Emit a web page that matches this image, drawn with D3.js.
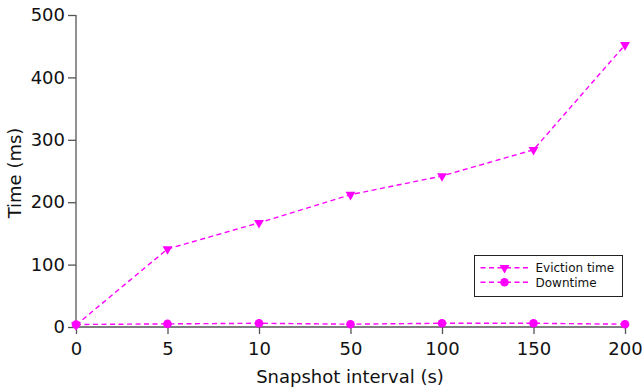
<!DOCTYPE html>
<html lang="en">
<head>
<meta charset="utf-8">
<title>eviction time vs snapshot interval</title>
<script src="https://d3js.org/d3.v7.min.js"></script>
<style>
  body{margin:0;background:#fff;font-family:"DejaVu Sans",sans-serif;}
</style>
</head>
<body>
<div id="chart"></div>
<script>
// snapshot intervals (s), plotted as evenly spaced categories
var intervals = ["0","5","10","50","100","150","200"]
var evictionTime = [3, 125, 167, 212, 242, 284, 452]
var downtime = [4, 5, 6, 4.5, 6, 6, 4.5]
var yTicks = [0, 100, 200, 300, 400, 500]

var w = 642, h = 390
var margin = {left:76, right:17, top:15, bottom:63}
var color = "#ff00ff"

var svg = d3.select("#chart").append("svg").attr("width", w).attr("height", h)

var x = d3.scalePoint().domain(intervals).range([margin.left, w - margin.right])
var y = d3.scaleLinear().domain([0, 500]).range([h - margin.bottom, margin.top])

var xAxis = svg.append("g")
  .attr("transform", "translate(0," + (h - margin.bottom) + ")")
  .call(d3.axisBottom(x).tickSize(7).tickPadding(8))
var yAxis = svg.append("g")
  .attr("transform", "translate(" + margin.left + ",0)")
  .call(d3.axisLeft(y).tickValues(yTicks).tickSize(8).tickPadding(3))

;[xAxis, yAxis].forEach(function(a){
  a.selectAll("path, line").attr("stroke", "#555").attr("stroke-width", 1.3)
  a.selectAll("text").attr("font-family", "DejaVu Sans").attr("font-size", 18).attr("fill", "#111")
})
xAxis.select(".domain").attr("d", "M" + margin.left + ",0H" + (w - margin.right))
yAxis.select(".domain").attr("d", "M0," + (h - margin.bottom) + "V" + margin.top)

svg.append("text").attr("x", 350).attr("y", 383)
  .attr("text-anchor", "middle").attr("font-size", 18).attr("fill", "#111")
  .text("Snapshot interval (s)")
svg.append("text").attr("transform", "translate(21," + 173 + ") rotate(-90)")
  .attr("text-anchor", "middle").attr("font-size", 18).attr("fill", "#111")
  .text("Time (ms)")

var line = d3.line().x(function(d, i){ return x(intervals[i]) }).y(function(d){ return y(d) })

var tri = d3.symbol().type(d3.symbolTriangle).size(42)

function drawSeries(vals, marker){
  svg.append("path").datum(vals).attr("d", line)
    .attr("fill", "none").attr("stroke", color).attr("stroke-width", 1.4)
    .attr("stroke-dasharray", "5,3.5")
  var g = svg.append("g").selectAll("g").data(vals).enter().append("g")
    .attr("transform", function(d, i){ return "translate(" + x(intervals[i]) + "," + y(d) + ")" })
  addMarker(g, marker)
}

function addMarker(sel, marker){
  if(marker == "tri"){
    sel.append("path").attr("d", tri).attr("transform", "rotate(180)").attr("fill", color)
  }else{
    sel.append("circle").attr("r", 4.3).attr("fill", color)
  }
}

drawSeries(evictionTime, "tri")
drawSeries(downtime, "circle")

// legend
var lg = svg.append("g").attr("transform", "translate(474.5,255.5)")
lg.append("rect").attr("width", 148).attr("height", 41)
  .attr("fill", "#fff").attr("stroke", "#222").attr("stroke-width", 1)
var items = [{name:"Eviction time", m:"tri"}, {name:"Downtime", m:"circle"}]
items.forEach(function(it, i){
  var row = lg.append("g").attr("transform", "translate(0," + (12.3 + i * 14.4) + ")")
  row.append("line").attr("x1", 6).attr("x2", 56).attr("y1", 0).attr("y2", 0)
    .attr("stroke", color).attr("stroke-width", 1.4).attr("stroke-dasharray", "5,3.5")
  addMarker(row.append("g").attr("transform", "translate(30,0)"), it.m)
  row.append("text").attr("x", 61).attr("y", 4.5).attr("font-size", 12).attr("fill", "#111").text(it.name)
})
</script>
</body>
</html>
